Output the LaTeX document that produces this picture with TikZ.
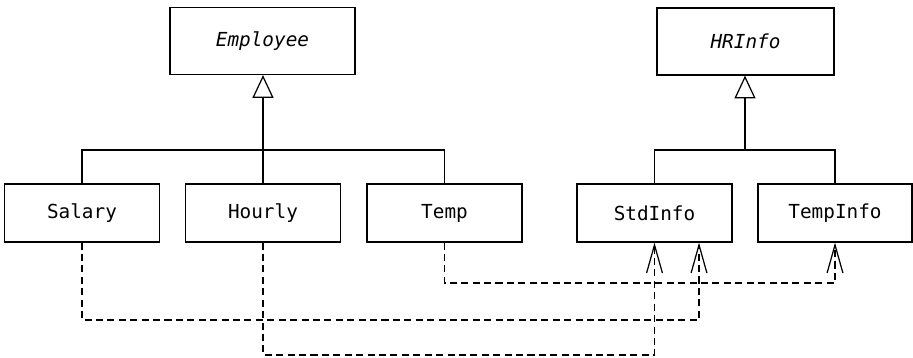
\documentclass[tikz,border=0pt]{standalone}
\usepackage{fontspec}
\setmonofont{DejaVu Sans Mono}
\usepackage{tikz}
\usetikzlibrary{arrows.meta}
\tikzset{cls/.style={shape=rectangle, draw=black, line width=0.7pt, minimum width=3.1cm, minimum height=1.16cm, inner sep=0pt, font=\ttfamily\fontsize{11}{12}\selectfont},
abscls/.style={cls, minimum height=1.34cm, font=\ttfamily\itshape\fontsize{11}{12}\selectfont},
gen/.style={line width=0.7pt, -{Triangle[open,length=13pt,width=12pt,line width=0.7pt]}},
dep/.style={line width=0.7pt, dash pattern=on 4pt off 2.5pt, -{Straight Barb[length=16pt,width=9pt,line width=0.7pt]}}}

\begin{document}
\begin{tikzpicture}[x=0.02cm,y=-0.02cm]
                \useasboundingbox (0,0) rectangle (913,358);

                \node[abscls, minimum width=3.7cm] (emp) at (262.5,41) {Employee};
                \node[abscls, minimum width=3.54cm] (hri) at (745.5,41.5) {HRInfo};
                \node[cls] (sal) at (82,213) {Salary};
                \node[cls] (hrl) at (263,213) {Hourly};
                \node[cls] (tmp) at (444.5,213) {Temp};
                \node[cls] (std) at (654.5,213) {StdInfo};
                \node[cls, minimum width=3.08cm] (tin) at (835,213) {TempInfo};

                \coordinate (ej) at (263,150);
                \coordinate (hj) at (745,150);
                \coordinate (s1) at (699,320);
                \coordinate (h1) at (654.5,355);
                \coordinate (t1) at (835,283);

                \draw[line width=0.7pt] (sal.north) |- (ej) -| (tmp.north);
                \draw[line width=0.7pt] (hrl.north) -- (ej);
                \draw[gen] (ej) -- (ej |- emp.south);
                \draw[line width=0.7pt] (std.north) |- (hj) -| (tin.north);
                \draw[gen] (hj) -- (hj |- hri.south);

                \draw[dep] (sal.south) |- (s1) -- (s1 |- std.south);
                \draw[dep] (hrl.south) |- (h1) -- (std.south);
                \draw[dep] (tmp.south) |- (t1) -- (tin.south);

            \end{tikzpicture}
\end{document}
